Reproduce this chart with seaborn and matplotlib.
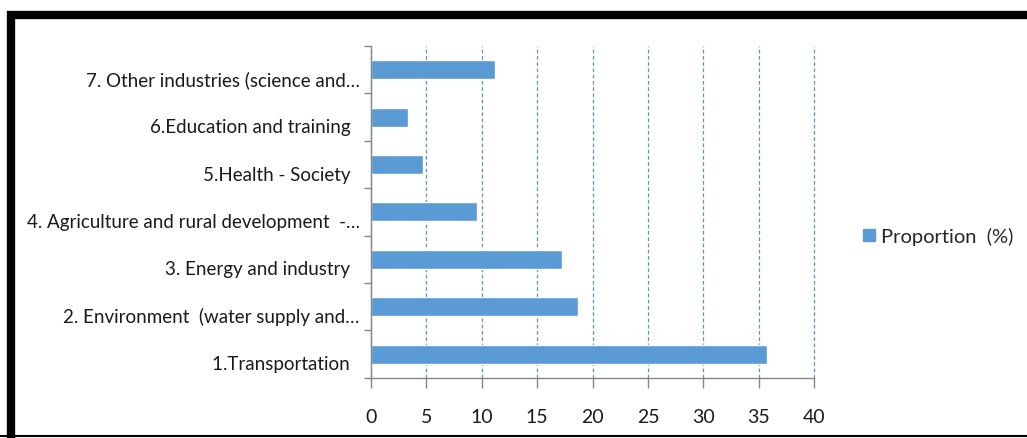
import pandas as pd
import matplotlib.pyplot as plt
import matplotlib.transforms as mtransforms
import seaborn as sns
from matplotlib.lines import Line2D

# sectors, top to bottom as shown in the chart
sectors = [
    "7. Other industries (science and\u2026",
    "6.Education and training  ",
    "5.Health - Society  ",
    "4. Agriculture and rural development  -\u2026",
    "3. Energy and industry  ",
    "2. Environment  (water supply and\u2026",
    "1.Transportation  ",
]
proportion = [11.2, 3.4, 4.7, 9.55, 17.2, 18.7, 35.7]
x_ticks = [0, 5, 10, 15, 20, 25, 30, 35, 40]

df = pd.DataFrame({"Sector": sectors, "Proportion (%)": proportion})

sns.set_style("white")
plt.rcParams["font.family"] = ["Lato", "DejaVu Sans"]

bar_color = "#5b9bd5"
axis_gray = "#868686"
text_color = "#1a1a1a"

fig = plt.figure(figsize=(10.27, 4.39), dpi=100)
ax = fig.add_axes([0.361, 0.137, 0.432, 0.756])

sns.barplot(data=df, x="Proportion (%)", y="Sector", color=bar_color,
            width=0.4, ax=ax, saturation=1)

ax.set_xlim(0, 40)
ax.set_ylim(len(sectors) - 0.5, -0.5)
ax.set_xticks(x_ticks)
ax.set_xticklabels([str(t) for t in x_ticks], fontsize=14, color=text_color)
ax.set_xlabel("")
ax.set_ylabel("")
ax.tick_params(axis="x", bottom=True, length=7, width=1, color=axis_gray,
               pad=15, direction="out")
ax.tick_params(axis="y", which="major", left=True, length=0, pad=8,
               labelsize=13.5, labelcolor=text_color)
ax.set_yticks([i + 0.5 for i in range(-1, len(sectors))], minor=True)
ax.tick_params(axis="y", which="minor", left=True, length=5, width=1,
               color=axis_gray, direction="out")

# category labels sit a little below the bar centres in the original
shift = mtransforms.ScaledTranslation(0, -8 / 100, fig.dpi_scale_trans)
for lbl in ax.get_yticklabels():
    lbl.set_transform(lbl.get_transform() + shift)

ax.grid(axis="x", color="#5f95c4", linestyle=(0, (3, 2)), linewidth=0.9)
ax.grid(axis="y", visible=False)
for gl in ax.get_xgridlines():
    gl.set_clip_on(False)
ax.set_axisbelow(True)

for s in ["top", "right"]:
    ax.spines[s].set_visible(False)
for s in ["left", "bottom"]:
    ax.spines[s].set_color(axis_gray)
    ax.spines[s].set_linewidth(1)

handle = Line2D([], [], marker="s", linestyle="none", markersize=9,
                markerfacecolor=bar_color, markeredgecolor=bar_color)
fig.legend([handle], ["Proportion  (%)"], loc="center left",
           bbox_to_anchor=(0.836, 0.46), frameon=False, fontsize=14.5,
           handletextpad=0.1, handlelength=1.0, borderpad=0, borderaxespad=0)

# frame lines of the cropped chart area
fig.add_artist(Line2D([0.0068, 1.0], [0.963, 0.963], color="black", linewidth=6,
                      solid_capstyle="butt", transform=fig.transFigure))
fig.add_artist(Line2D([0.0107, 0.0107], [0.0, 0.972], color="black", linewidth=6,
                      solid_capstyle="butt", transform=fig.transFigure))
fig.add_artist(Line2D([0.0, 1.0], [0.004, 0.004], color="black", linewidth=1.5,
                      transform=fig.transFigure))

fig.savefig("out.png", dpi=100)
plt.close(fig)
